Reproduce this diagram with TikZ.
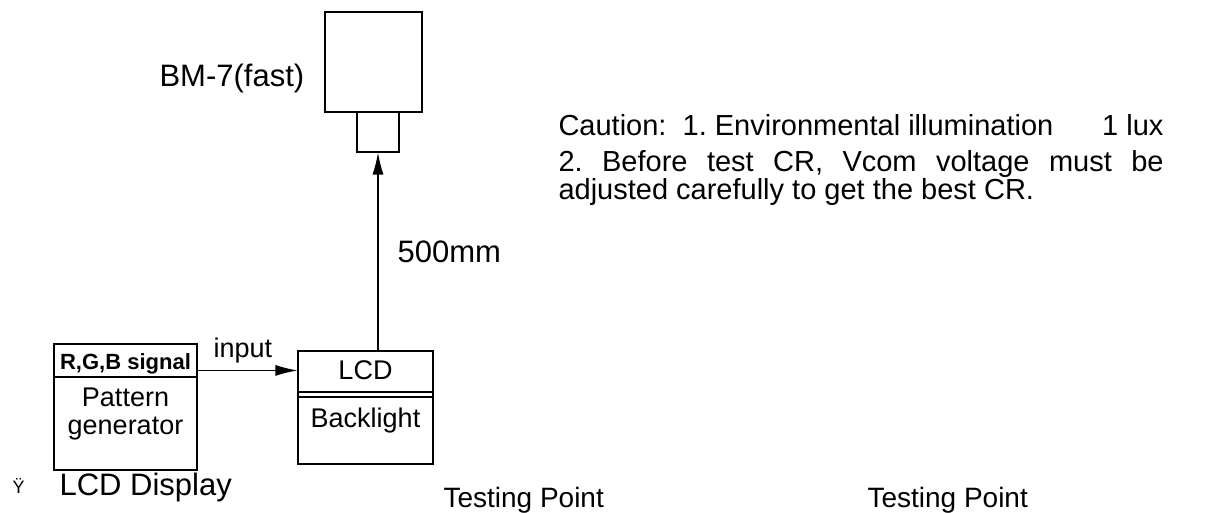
\documentclass[tikz,border=0pt]{standalone}
\usepackage{fontspec}
\setmainfont{Liberation Sans}
\frenchspacing
\usetikzlibrary{arrows.meta}
\begin{document}
\begin{tikzpicture}
  [x=1pt,y=-1pt,line width=1.1pt,
   box/.style={draw,rectangle,inner sep=0pt},
   lbl/.style={inner sep=0pt,anchor=base west,font=\fontsize{28}{32}\selectfont},
   boxtxt/.style={inner sep=0pt,anchor=base,font=\fontsize{27}{30}\selectfont},
   arrow/.style={-{Latex[length=22pt,width=11pt]}}]
  \useasboundingbox (0,0) rectangle (1223,513);

  % camera and lens
  \node (cam)[box,minimum width=97pt,minimum height=100pt] at (373.5,62) {};
  \node (lens)[box,minimum width=42pt,minimum height=40pt] at (378,132) {};
  \node (bm)[lbl,font=\fontsize{31}{34}\selectfont] at (159,87) {BM-7(fast)};

  % pattern generator
  \node (pg)[box,minimum width=143pt,minimum height=126pt] at (125.5,407) {};
  \draw (pg.west |- 0,377) -- (pg.east |- 0,377);
  \node (sig)[boxtxt,font=\fontsize{22}{26}\selectfont\bfseries] at (125.5,369) {R,G,B signal};
  \node (pat)[boxtxt] at (125.5,406) {Pattern};
  \node (gen)[boxtxt] at (125.5,434) {generator};

  % lcd module
  \node (lcd)[box,minimum width=135pt,minimum height=113pt] at (365.5,407.5) {};
  \draw (lcd.west |- 0,392) -- (lcd.east |- 0,392);
  \draw (lcd.west |- 0,397) -- (lcd.east |- 0,397);
  \node (lcdt)[boxtxt] at (365.5,379) {LCD};
  \node (bl)[boxtxt] at (365.5,427) {Backlight};

  % connections
  \draw[arrow] ([yshift=-27pt]pg.north east) -- ([yshift=-27pt]pg.north east -| lcd.west);
  \node (inp)[lbl,font=\fontsize{27}{30}\selectfont] at (213,357) {input};
  \draw[arrow] (lcd.north -| lens.south) -- (lens.south);
  \node (dist)[lbl,font=\fontsize{31}{34}\selectfont] at (397,262) {500mm};

  % caution
  \node (c1)[lbl,font=\fontsize{29}{32}\selectfont] at (558,136) {\makebox[605pt]{Caution:\ \ 1. Environmental illumination\hfill 1 lux}};
  \node (c2)[lbl,font=\fontsize{29}{32}\selectfont] at (558,172) {\makebox[605pt][s]{2. Before test CR, Vcom voltage must be}};
  \node (c3)[lbl,font=\fontsize{29}{32}\selectfont] at (558,200) {adjusted carefully to get the best CR.};

  % captions
  \node (mark)[lbl,font=\fontsize{18}{22}\selectfont] at (12,493) {Ÿ};
  \node (disp)[lbl,font=\fontsize{31}{34}\selectfont] at (59,495) {LCD Display};
  \node (tp1)[lbl] at (443,507) {Testing Point};
  \node (tp2)[lbl] at (867,507) {Testing Point};
\end{tikzpicture}
\end{document}
